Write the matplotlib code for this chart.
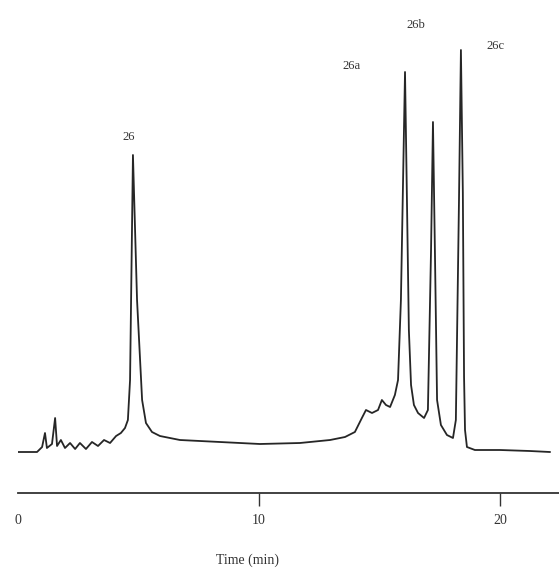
import numpy as np
import matplotlib
matplotlib.use("Agg")
import matplotlib.pyplot as plt

# trace: time (min) vs detector signal (arb. units)
time = [0.0, 0.79, 1.0, 1.12, 1.2, 1.41, 1.54, 1.62, 1.78, 1.95, 2.16, 2.37,
        2.57, 2.82, 3.07, 3.32, 3.57, 3.82, 4.07, 4.27, 4.44, 4.56, 4.65, 4.77,
        4.94, 5.15, 5.31, 5.56, 5.89, 6.72, 8.38, 10.04, 11.7, 12.95, 13.57,
        13.98, 14.27, 14.44, 14.69, 14.94, 15.1, 15.27, 15.44, 15.64, 15.77,
        15.89, 16.06, 16.14, 16.22, 16.31, 16.43, 16.6, 16.85, 17.01, 17.14,
        17.22, 17.3, 17.39, 17.55, 17.8, 18.05, 18.17, 18.3, 18.38, 18.46,
        18.51, 18.55, 18.63, 18.96, 20.0, 21.24, 22.07]
signal = [41, 41, 46, 60, 45, 49, 75, 47, 53, 45, 50, 44,
          50, 44, 51, 47, 53, 50, 57, 60, 65, 73, 113, 338,
          193, 93, 70, 61, 57, 53, 51, 49, 50, 53, 56,
          61, 75, 83, 80, 83, 93, 88, 86, 98, 113,
          193, 421, 293, 163, 108, 88, 80, 75, 83, 243,
          371, 243, 93, 68, 58, 55, 73, 293, 443, 300,
          116, 63, 46, 43, 43, 42, 41]

peak_names = ["26", "26a", "26b", "26c"]
peak_label_t = [4.6, 13.86, 16.5, 19.8]
peak_label_s = [356, 427, 468, 447]

tick_vals = [0, 10, 20]
tick_text = ["0", "10", "20"]

plt.rcParams['font.family'] = ['Liberation Serif', 'DejaVu Serif']

fig = plt.figure(figsize=(5.59, 5.72), dpi=100)
ax = fig.add_axes([18 / 559, 79 / 572, 541 / 559, 493 / 572])

ax.plot(time, signal, color="#262626", lw=1.3)

for name, t, s in zip(peak_names, peak_label_t, peak_label_s):
    ax.text(t, s, name, ha="center", va="center", fontsize=9, color="#333333")

ax.set_xlim(0, 22.45)
ax.set_ylim(0, 493)
ax.set_xticks(tick_vals)
ax.set_xticklabels(tick_text, fontsize=10, color="#333333")
ax.tick_params(axis="x", direction="out", length=9, width=1, pad=6, colors="#333333")
ax.xaxis.get_major_ticks()[0].tick1line.set_visible(False)
ax.set_yticks([])
for side in ["top", "left", "right"]:
    ax.spines[side].set_visible(False)
ax.spines["bottom"].set_color("#333333")
ax.spines["bottom"].set_linewidth(1.3)

fig.text(248 / 559, 1 - 560 / 572, "Time (min)", ha="center", va="center",
         fontsize=10, color="#333333")

fig.savefig("out.png", dpi=100)
